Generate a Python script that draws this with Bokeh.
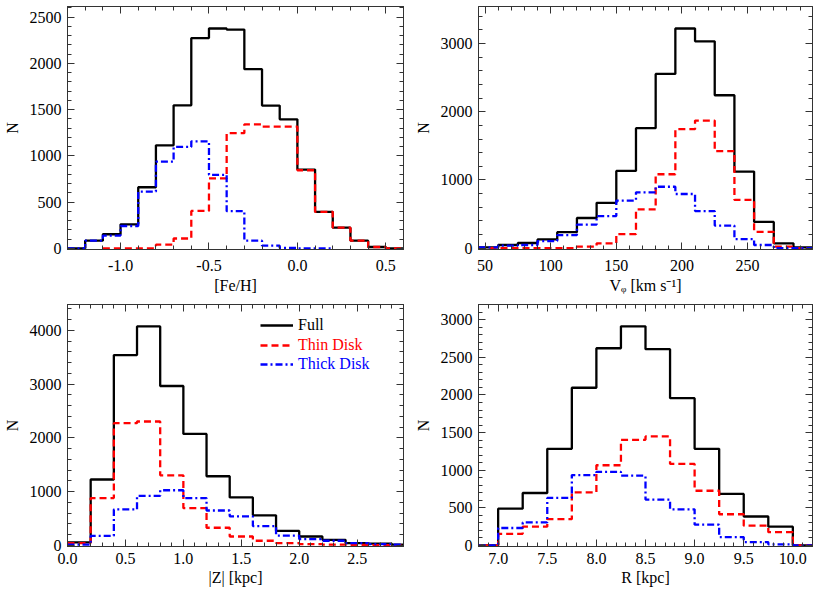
import numpy as np
from bokeh.plotting import figure
from bokeh.layouts import column, row
from bokeh.models import (Range1d, SingleIntervalTicker, LinearAxis,
                          NumeralTickFormatter, BasicTickFormatter,
                          CustomJSTickFormatter, Legend, LegendItem)
from bokeh.embed import file_html
from bokeh.resources import INLINE

FONT = "Liberation Serif"

# ---------------- data ----------------
# Panel 1: [Fe/H]
feh_edges = [-1.3, -1.2, -1.1, -1.0, -0.9, -0.8, -0.7, -0.6, -0.5, -0.4, -0.3,
             -0.2, -0.1, 0.0, 0.1, 0.2, 0.3, 0.4, 0.5, 0.6]
feh_full = [0, 82, 152, 259, 660, 1113, 1546, 2273, 2376, 2365, 1936,
            1543, 1394, 851, 394, 223, 82, 14, 0]
feh_thin = [None, None, 0, 0, 0, 39, 106, 404, 755, 1245, 1340,
            1316, 1316, 844, 394, 223, 82, 14, 0]
feh_thick = [0, 82, 138, 241, 613, 936, 1096, 1156, 794, 401, 82,
             28, 4, 0, 0, None, None, None, None]

# Panel 2: V_phi
vphi_edges = [45, 60, 75, 90, 105, 120, 135, 150, 165, 180, 195, 210, 225,
              240, 255, 270, 285, 300]
vphi_full = [14, 48, 77, 130, 236, 443, 665, 1133, 1759, 2554, 3219, 3031,
             2241, 1123, 386, 72, 14]
vphi_thin = [0, 0, 0, 0, 0, 24, 72, 207, 569, 1084, 1745, 1870,
             1422, 708, 241, 24, 0]
vphi_thick = [14, 39, 48, 106, 193, 347, 472, 699, 819, 901, 795, 545,
              333, 135, 48, 0, 0]

# Panel 3: |Z|
z_edges = [0.0, 0.2, 0.4, 0.6, 0.8, 1.0, 1.2, 1.4, 1.6, 1.8, 2.0, 2.2, 2.4,
           2.6, 2.8, 3.0]
z_full = [55, 1224, 3539, 4073, 2964, 2073, 1285, 891, 558, 267, 164, 103,
          42, 30, 12]
z_thin = [42, 879, 2273, 2303, 1303, 691, 327, 164, 85, 42, 24, 12, 8, 5, 5]
z_thick = [12, 176, 667, 921, 1024, 879, 648, 539, 358, 182, 115, 85, 42,
           24, 12]

# Panel 4: R
r_edges = [6.75, 7.0, 7.25, 7.5, 7.75, 8.0, 8.25, 8.5, 8.75, 9.0, 9.25, 9.5,
           9.75, 10.0, 10.25]
r_full = [0, 487, 696, 1283, 2096, 2622, 2913, 2609, 1957, 1283, 683, 383,
          248, 0]
r_thin = [0, 152, 248, 348, 704, 1065, 1404, 1448, 1083, 726, 413, 261,
          174, 0]
r_thick = [0, 230, 304, 630, 935, 978, 926, 609, 478, 274, 109, 43, 13, 0]

series_names = ["Full", "Thin Disk", "Thick Disk"]
series_colors = ["#000000", "#ff0000", "#0000ff"]
series_dash = ["solid", "7 4", "7 3 2 3"]


def step_xy(edges, vals):
    xs, ys = [], []
    for i, v in enumerate(vals):
        if v is None:
            if xs and not np.isnan(xs[-1]):
                xs.append(np.nan)
                ys.append(np.nan)
            continue
        xs += [edges[i], edges[i + 1]]
        ys += [v, v]
    return xs, ys


def style_axis(ax, ticker, labels=True):
    ax.ticker = ticker
    ax.axis_line_color = "#333333"
    ax.axis_line_width = 1
    ax.major_tick_in = 7
    ax.major_tick_out = 0
    ax.minor_tick_in = 4
    ax.minor_tick_out = 0
    ax.major_tick_line_color = "#333333"
    ax.minor_tick_line_color = "#333333"
    ax.major_label_text_font = FONT
    ax.major_label_text_font_size = "16px"
    ax.major_label_text_color = "#000000"
    ax.axis_label_text_font = FONT
    ax.axis_label_text_font_size = "16px"
    ax.axis_label_text_font_style = "normal"
    ax.axis_label_text_color = "#000000"
    if not labels:
        ax.formatter = CustomJSTickFormatter(code="return ''")
        ax.major_label_standoff = 0


def make_panel(xr, yr, xint, yint, xfmt, xlabel, edges, data, w, h,
               bl, br, bt, bb, xso, xlso):
    p = figure(width=w, height=h, x_range=Range1d(*xr), y_range=Range1d(*yr),
               output_backend="svg", toolbar_location=None,
               min_border_left=bl, min_border_right=br,
               min_border_top=bt, min_border_bottom=bb)
    p.grid.visible = False
    p.outline_line_color = "#333333"
    p.outline_line_width = 1
    p.background_fill_color = "white"
    p.border_fill_color = "white"

    xt = SingleIntervalTicker(interval=xint, num_minor_ticks=5)
    yt = SingleIntervalTicker(interval=yint, num_minor_ticks=5)
    style_axis(p.xaxis[0], xt)
    p.xaxis[0].formatter = xfmt
    p.xaxis[0].axis_label = xlabel
    p.xaxis[0].major_label_standoff = xso
    p.xaxis[0].axis_label_standoff = xlso
    style_axis(p.yaxis[0], yt)
    p.yaxis[0].formatter = BasicTickFormatter()
    p.yaxis[0].axis_label = "N"
    p.yaxis[0].major_label_standoff = 6
    p.yaxis[0].axis_label_standoff = 6

    top = LinearAxis()
    style_axis(top, SingleIntervalTicker(interval=xint, num_minor_ticks=5),
               labels=False)
    p.add_layout(top, "above")
    right = LinearAxis()
    style_axis(right, SingleIntervalTicker(interval=yint, num_minor_ticks=5),
               labels=False)
    p.add_layout(right, "right")

    rends = []
    for vals, col, dash in zip(data, series_colors, series_dash):
        xs, ys = step_xy(edges, vals)
        r = p.line(xs, ys, line_color=col, line_width=2.3, line_dash=dash)
        rends.append(r)
    return p, rends


p1, _ = make_panel((-1.3, 0.6), (-13, 2614), 0.5, 500,
                   NumeralTickFormatter(format="0.0"), "[Fe/H]",
                   feh_edges, [feh_full, feh_thin, feh_thick],
                   407, 296, 67, 4, 6, 47, 10, 3)
p2, _ = make_panel((45, 299.5), (-18, 3541), 50, 1000, BasicTickFormatter(),
                   "V\u1D69 [km s\u207B\u00B9]",
                   vphi_edges, [vphi_full, vphi_thin, vphi_thick],
                   407, 296, 71, 2, 6, 47, 10, 3)
p3, r3 = make_panel((0.0, 2.9), (-22, 4480), 0.5, 1000,
                    NumeralTickFormatter(format="0.0"), "|Z| [kpc]",
                    z_edges, [z_full, z_thin, z_thick],
                    407, 292, 67, 4, 8, 42, 6, 2)
p4, _ = make_panel((6.8, 10.2), (-16, 3204), 0.5, 500,
                   NumeralTickFormatter(format="0.0"), "R [kpc]",
                   r_edges, [r_full, r_thin, r_thick],
                   407, 292, 71, 2, 8, 42, 6, 2)

# legend in panel 3 with coloured labels
legend_y = [212, 192, 173]
for name, col, rend, ly in zip(series_names, series_colors, r3, legend_y):
    lg = Legend(items=[LegendItem(label=name, renderers=[rend])],
                location=(193, ly), padding=0, margin=0, spacing=0,
                glyph_width=33, glyph_height=18, label_height=18,
                label_standoff=5, label_text_font=FONT,
                label_text_font_size="16px", label_text_color=col,
                border_line_alpha=0, background_fill_alpha=0)
    p3.add_layout(lg, "center")

layout = column(row(p1, p2), row(p3, p4))
open("out.html", "w").write(file_html(layout, INLINE))
